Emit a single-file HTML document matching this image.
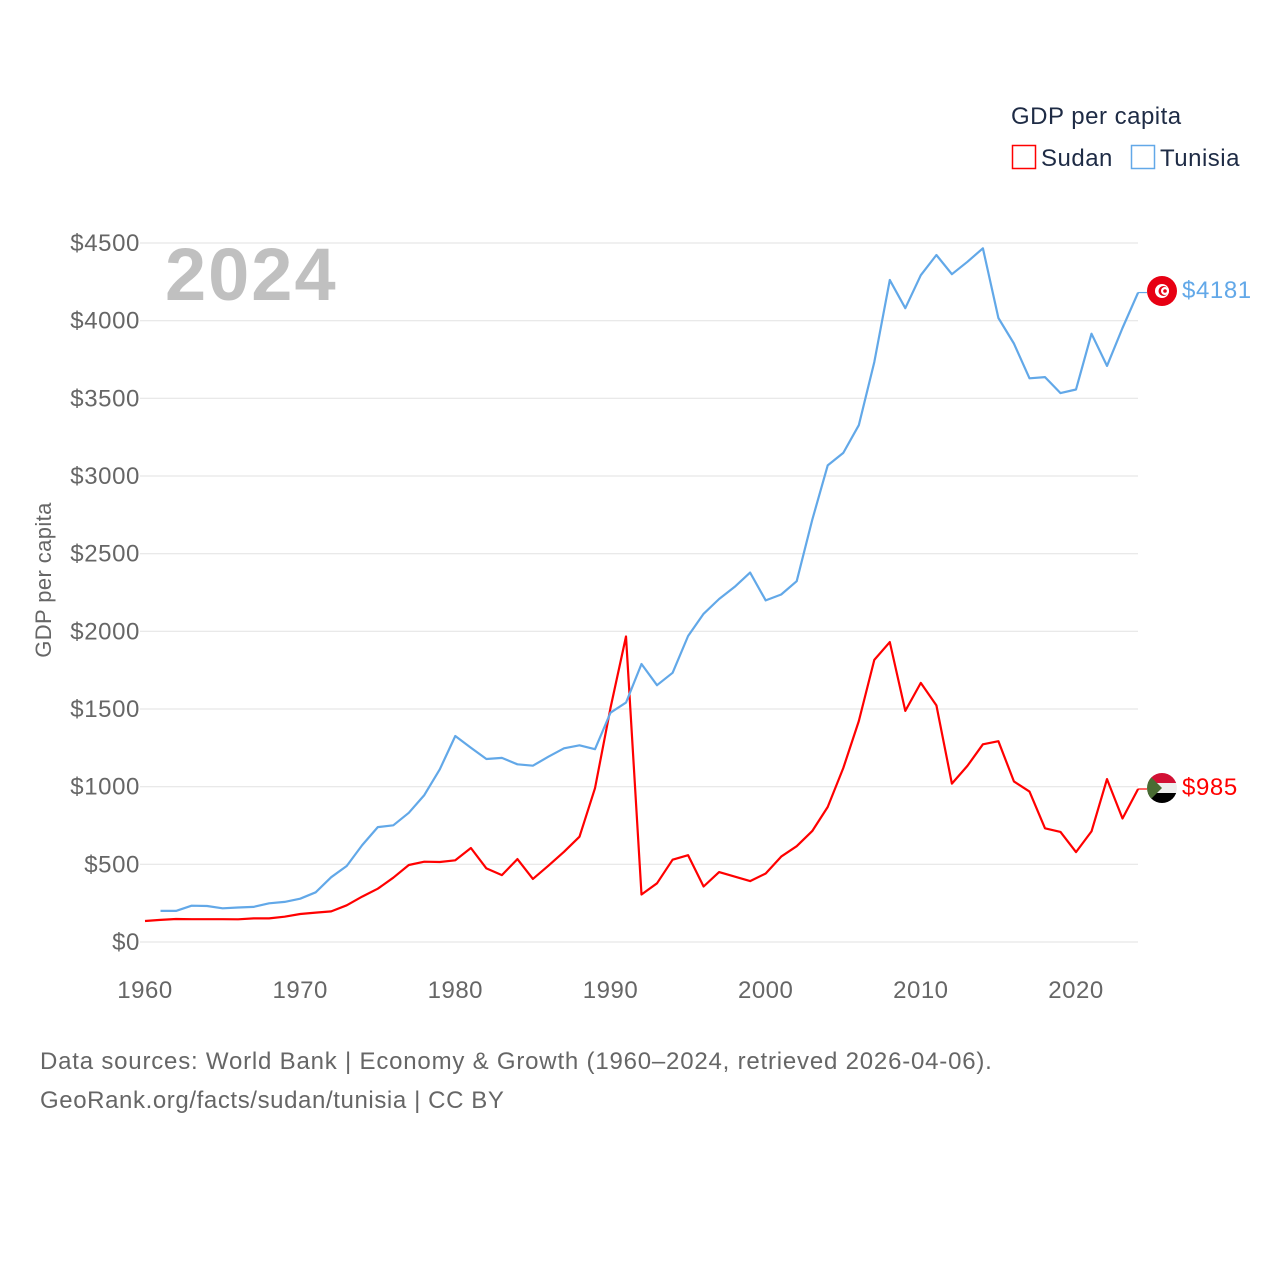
<!DOCTYPE html>
<html><head><meta charset="utf-8">
<style>
body{margin:0;background:#fff;}
svg{display:block;font-family:"Liberation Sans",sans-serif;}
</style></head>
<body>
<svg id="chart" width="1280" height="1280" viewBox="0 0 1280 1280">
<defs>
<clipPath id="c1"><circle cx="1162" cy="291" r="15"/></clipPath>
<clipPath id="c2"><circle cx="1162" cy="788" r="15"/></clipPath>
</defs>
<g id="grid"></g>
<g id="yticks"></g>
<g id="xticks"></g>
<text x="165" y="300" font-size="74" font-weight="bold" fill="#c0c0c0" letter-spacing="2">2024</text>
<text transform="translate(51,580) rotate(-90)" text-anchor="middle" font-size="22" fill="#666" letter-spacing="0.4">GDP per capita</text>
<g id="lines"></g>
<g letter-spacing="0.5">
<text x="1011" y="124" font-size="24" fill="#1e2b45">GDP per capita</text>
<g><rect x="1012.5" y="145.5" width="23" height="23" fill="none" stroke="#ff0000" stroke-width="1.5"/><text x="1041" y="166" font-size="24" fill="#1e2b45">Sudan</text></g>
<g><rect x="1131.5" y="145.5" width="23" height="23" fill="none" stroke="#62a8e8" stroke-width="1.5"/><text x="1160" y="166" font-size="24" fill="#1e2b45">Tunisia</text></g>
</g>
<g clip-path="url(#c1)">
<rect x="1147" y="276" width="30" height="30" fill="#e70013"/>
<circle cx="1162" cy="291" r="7" fill="#fff"/><circle cx="1163.5" cy="291" r="5" fill="#e70013"/><circle cx="1165" cy="291" r="4" fill="#fff"/><circle cx="1165" cy="291" r="1.8" fill="#e70013"/>
</g>
<g clip-path="url(#c2)">
<rect x="1147" y="773" width="30" height="10" fill="#d21034"/><rect x="1147" y="783" width="30" height="10" fill="#eee"/><rect x="1147" y="793" width="30" height="10" fill="#000"/>
<polygon points="1147,773 1162,788 1147,803" fill="#4a6c33"/>
</g>
<text x="1182" y="298" font-size="24" fill="#62a8e8" letter-spacing="0.6">$4181</text>
<text x="1182" y="795" font-size="24" fill="#ff0000" letter-spacing="0.6">$985</text>
<text x="40" y="1069" font-size="24" fill="#666" letter-spacing="0.8">Data sources: World Bank | Economy &amp; Growth (1960–2024, retrieved 2026-04-06).</text>
<text x="40" y="1108" font-size="24" fill="#666" letter-spacing="0.6">GeoRank.org/facts/sudan/tunisia | CC BY</text>
</svg>
<script>
const years=[];for(let y=1960;y<=2024;y++)years.push(y);
const sudanValues=[135,142,148,147,147,147,146,152,152,163,180,189,197,236,292,343,414,496,517,515,526,605,474,431,534,406,491,581,678,990,1507,1967,306,378,530,559,357,450,421,392,441,550,617,714,869,1120,1422,1816,1931,1488,1668,1523,1020,1134,1273,1293,1034,968,732,709,579,712,1049,795,985];
const tunisiaValues=[null,200,200,234,232,217,222,226,249,258,279,320,417,489,624,740,751,832,946,1112,1326,1251,1178,1185,1144,1135,1193,1247,1266,1241,1476,1541,1790,1653,1733,1970,2113,2208,2286,2378,2199,2237,2323,2717,3068,3149,3327,3733,4262,4080,4293,4423,4299,4379,4466,4017,3853,3629,3637,3534,3557,3916,3709,3953,4181];
const yTicks=[0,500,1000,1500,2000,2500,3000,3500,4000,4500];
const xTicks=[1960,1970,1980,1990,2000,2010,2020];
const NS='http://www.w3.org/2000/svg';
const xS=v=>145+(v-1960)*(1076-145)/60;
const yS=v=>942-v*(942-243)/4500;
function mk(t,a,p){const e=document.createElementNS(NS,t);for(const k in a)e.setAttribute(k,a[k]);p.appendChild(e);return e;}
const grid=document.getElementById('grid'),yt=document.getElementById('yticks'),xt=document.getElementById('xticks'),lines=document.getElementById('lines');
yTicks.forEach(v=>{
 const l=mk('line',{x1:140,x2:1138,y1:yS(v),y2:yS(v),stroke:'#e6e6e6','stroke-width':1.2},grid);
 
 
 const t=mk('text',{x:140,y:yS(v)+8,'text-anchor':'end','font-size':24,fill:'#666','letter-spacing':0.6},yt);
 t.textContent='$'+v;
 
 
});
xTicks.forEach(v=>{
 const t=mk('text',{x:xS(v),y:998,'text-anchor':'middle','font-size':24,fill:'#666','letter-spacing':0.5},xt);
 t.textContent=v;
 
 
});
function path(vals){let d='';vals.forEach((v,i)=>{if(v==null)return;d+=(d?'L':'M')+xS(years[i]).toFixed(1)+','+yS(v).toFixed(1);});return d;}
const ps=mk('path',{d:path(sudanValues),fill:'none',stroke:'#ff0000','stroke-width':2.2,'stroke-linejoin':'round'},lines);


const pt=mk('path',{d:path(tunisiaValues),fill:'none',stroke:'#62a8e8','stroke-width':2.2,'stroke-linejoin':'round'},lines);


const lastS=sudanValues[sudanValues.length-1],lastT=tunisiaValues[tunisiaValues.length-1];
const c1=mk('line',{x1:xS(2024),x2:1147,y1:yS(lastT),y2:yS(lastT),stroke:'#62a8e8','stroke-width':1.2},lines);


const c2=mk('line',{x1:xS(2024),x2:1147,y1:yS(lastS),y2:yS(lastS),stroke:'#ff0000','stroke-width':1.2},lines);


</script>
</body></html>
